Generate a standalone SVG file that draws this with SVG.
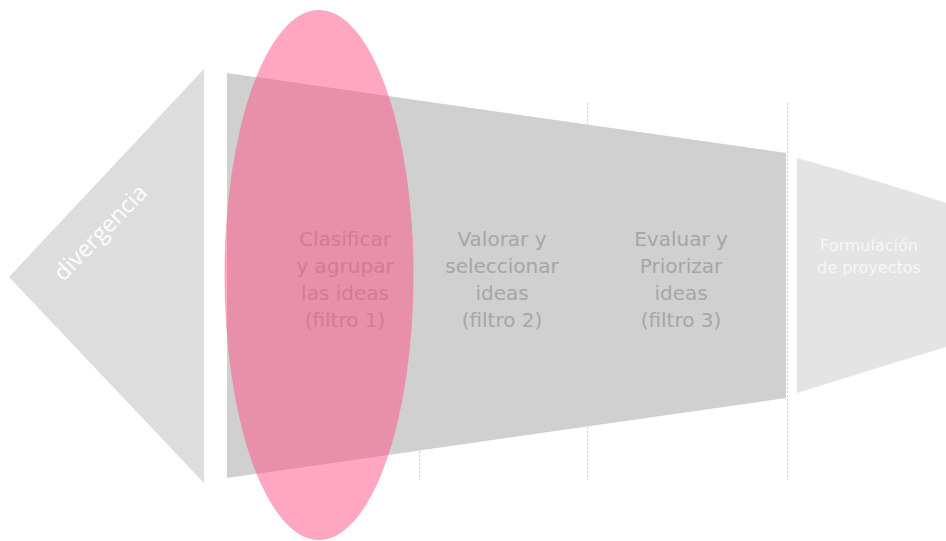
<svg xmlns="http://www.w3.org/2000/svg" width="946" height="541" viewBox="0 0 946 541">
  <style>
    .guide { stroke: #cfcfcf; stroke-width: 1; stroke-dasharray: 2 2; fill: none; }
    .stage { font-family: "DejaVu Sans", "Liberation Sans", sans-serif; font-size: 20px; fill: #a6a6a6; text-anchor: middle; }
    .light { font-family: "DejaVu Sans", "Liberation Sans", sans-serif; font-size: 16px; fill: #f7f7f7; text-anchor: middle; }
    .diag { font-family: "Open Sans", "DejaVu Sans", sans-serif; font-size: 23px; fill: #ffffff; text-anchor: middle; }
  </style>
  <rect width="946" height="541" fill="#ffffff"/>
  <g id="guides">
    <line class="guide" x1="419.5" y1="103" x2="419.5" y2="480"/>
    <line class="guide" x1="587.5" y1="103" x2="587.5" y2="480"/>
    <line class="guide" x1="787.5" y1="103" x2="787.5" y2="480"/>
  </g>
  <g id="divergencia">
    <polygon points="9,277 204,69 204,483" fill="#dddddd"/>
    <text class="diag" transform="translate(106,238) rotate(-46)">divergencia</text>
  </g>
  <g id="funnel">
    <polygon points="227,73 786,153 786,398 227,478" fill="#d0d0d0"/>
  </g>
  <g id="filtro1">
    <text class="stage" x="345" y="246">Clasificar</text>
    <text class="stage" x="345" y="273">y agrupar</text>
    <text class="stage" x="345" y="300">las ideas</text>
    <text class="stage" x="345" y="327">(filtro 1)</text>
  </g>
  <g id="filtro2">
    <text class="stage" x="502" y="246">Valorar y</text>
    <text class="stage" x="502" y="273">seleccionar</text>
    <text class="stage" x="502" y="300">ideas</text>
    <text class="stage" x="502" y="327">(filtro 2)</text>
  </g>
  <g id="filtro3">
    <text class="stage" x="681" y="246">Evaluar y</text>
    <text class="stage" x="681" y="273">Priorizar</text>
    <text class="stage" x="681" y="300">ideas</text>
    <text class="stage" x="681" y="327">(filtro 3)</text>
  </g>
  <g id="formulacion">
    <path d="M797,158 Q870,178 946,203 L946,347 Q870,370 797,393 Z" fill="#e4e4e4"/>
    <text class="light" x="869" y="251">Formulación</text>
    <text class="light" x="869" y="273">de proyectos</text>
  </g>
  <g id="highlight">
    <ellipse cx="319" cy="275" rx="94.5" ry="265" fill="#ff5083" fill-opacity="0.51"/>
  </g>
</svg>
